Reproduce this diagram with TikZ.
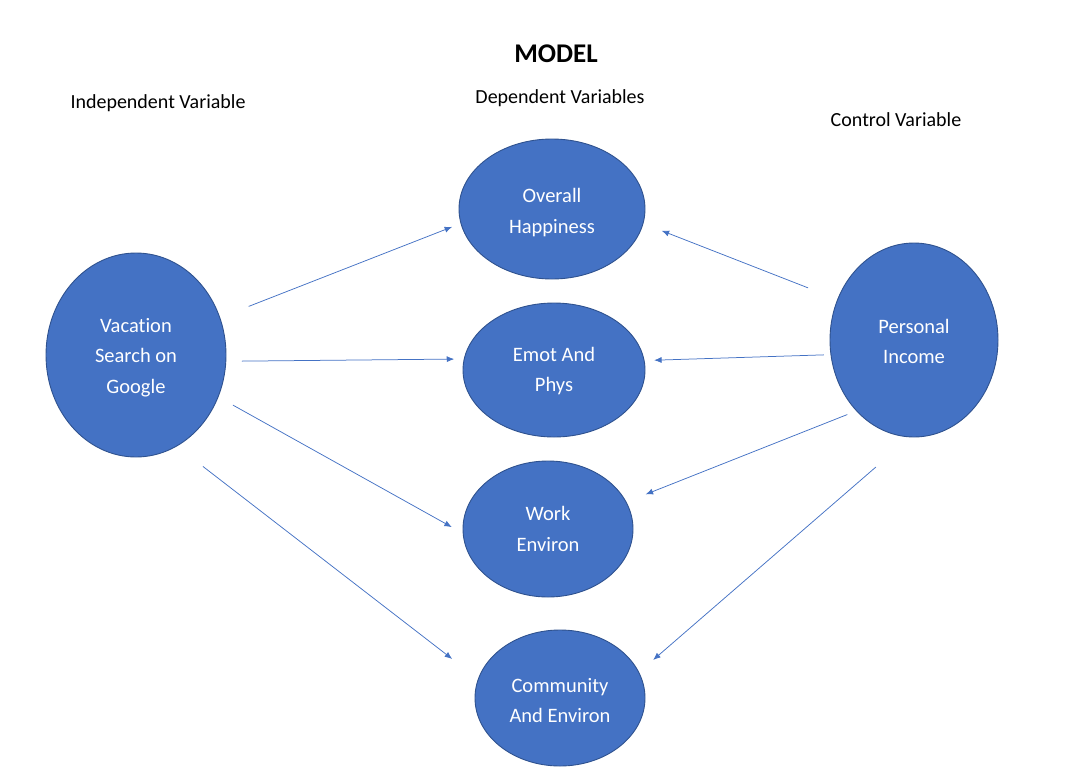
\documentclass[tikz,border=0pt]{standalone}
\usepackage{fontspec}
\setmainfont{Carlito}[Ligatures=NoCommon]
\usetikzlibrary{shapes.geometric,arrows.meta}
\definecolor{fillblue}{HTML}{4472C4}
\definecolor{edgeblue}{HTML}{2F528F}
\definecolor{arrowblue}{HTML}{4472C4}
\newcommand\liftup[1]{\rule{0pt}{#1}}
\begin{document}
\begin{tikzpicture}[x=1pt,y=-1pt,
  var/.style={ellipse,draw=edgeblue,line width=0.9pt,fill=fillblue,text=white,
    inner sep=0pt,outer sep=0pt,align=center,font=\fontsize{20.5}{30.3}\selectfont},
  head/.style={font=\fontsize{20}{24}\selectfont,text=black,inner sep=0pt},
  arr/.style={draw=arrowblue,line width=0.75pt,-{Latex[length=7.5pt,width=6pt]}}]
\useasboundingbox (0,0) rectangle (1073,771);
\node[head,font=\fontsize{27}{30}\selectfont\bfseries] (title) at (556,54) {MODEL};
\node[head] (indep) at (158,103) {Independent Variable};
\node[head] (dep) at (560,98) {Dependent Variables};
\node[head] (ctrl) at (896,120) {Control Variable};

\node[var,minimum width=180pt,minimum height=204pt] (vac) at (136,355) {\liftup{19.5pt}Vacation\\Search on\\Google};
\node[var,minimum width=186pt,minimum height=140pt] (over) at (552,209) {\liftup{21.5pt}Overall\\Happiness};
\node[var,minimum width=182pt,minimum height=134pt] (emot) at (554,370) {\liftup{16.5pt}Emot And\\Phys};
\node[var,minimum width=170pt,minimum height=136pt] (work) at (548,529) {Work\\Environ};
\node[var,minimum width=170pt,minimum height=136pt] (comm) at (560,698) {\liftup{18.5pt}Community\\And Environ};
\node[var,minimum width=168pt,minimum height=194pt] (inc) at (914,340) {\liftup{16.5pt}Personal\\Income};

\draw[arr,shorten <=31pt,shorten >=9.5pt] (vac.24.1) -- (over.189.6);
\draw[arr,shorten <=16pt,shorten >=10pt] (vac.356.2) -- (emot.173.7);
\draw[arr,shorten <=17pt,shorten >=13pt] (vac.333.1) -- (work.183.6);
\draw[arr,shorten <=33.4pt,shorten >=33pt] (vac.294.8) -- (comm.167.8);
\draw[arr,shorten <=31.8pt,shorten >=20pt] (inc.152.2) -- (over.351.5);
\draw[arr,shorten <=7pt,shorten >=10pt] (inc.190.1) -- (emot.6.8);
\draw[arr,shorten <=10pt,shorten >=21pt] (inc.231.4) -- (work.19.8);
\draw[arr,shorten <=46pt,shorten >=19pt] (inc.268.1) -- (comm.18.0);
\end{tikzpicture}
\end{document}
